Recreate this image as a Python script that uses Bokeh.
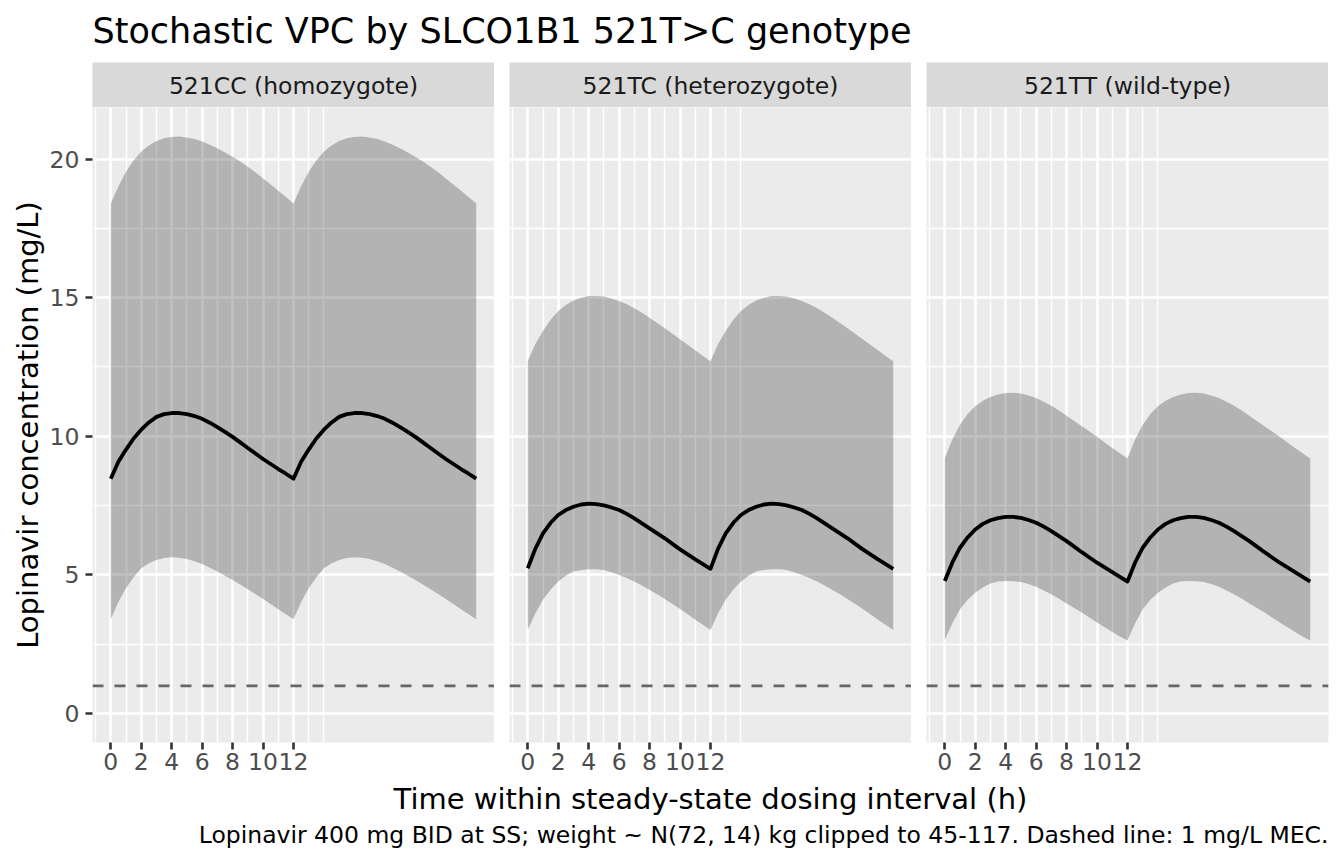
from bokeh.plotting import figure
from bokeh.models import Range1d, FixedTicker, Span, Spacer, ColumnDataSource
from bokeh.layouts import row, column
from bokeh.core.properties import value
from bokeh.embed import file_html
from bokeh.resources import INLINE

# ---------------- data ----------------
panel_labels = ["521CC (homozygote)", "521TC (heterozygote)", "521TT (wild-type)"]

time_h = [0, 0.5, 1, 1.5, 2, 2.5, 3, 3.5, 4, 4.5, 5, 5.5, 6, 6.5, 7, 7.5, 8, 8.5, 9, 9.5, 10, 10.5, 11, 11.5, 12,
          12.5, 13, 13.5, 14, 14.5, 15, 15.5, 16, 16.5, 17, 17.5, 18, 18.5, 19, 19.5, 20, 20.5, 21, 21.5, 22, 22.5,
          23, 23.5, 24]

cc_median = [8.47, 9.08, 9.52, 9.92, 10.24, 10.50, 10.70, 10.80, 10.84, 10.84, 10.80, 10.73, 10.63, 10.49, 10.33,
             10.16, 9.98, 9.78, 9.58, 9.38, 9.18, 9.00, 8.82, 8.65, 8.47,
             9.08, 9.52, 9.92, 10.24, 10.50, 10.70, 10.80, 10.84, 10.84, 10.80, 10.73, 10.63, 10.49, 10.33,
             10.16, 9.98, 9.78, 9.58, 9.38, 9.18, 9.00, 8.82, 8.65, 8.47]
cc_upper = [18.40, 19.02, 19.54, 19.95, 20.27, 20.49, 20.65, 20.75, 20.80, 20.81, 20.78, 20.72, 20.63, 20.52, 20.39,
            20.24, 20.08, 19.91, 19.72, 19.52, 19.30, 19.08, 18.86, 18.63, 18.40,
            19.02, 19.54, 19.95, 20.27, 20.49, 20.65, 20.75, 20.80, 20.81, 20.78, 20.72, 20.63, 20.52, 20.39,
            20.24, 20.08, 19.91, 19.72, 19.52, 19.30, 19.08, 18.86, 18.63, 18.40]
cc_lower = [3.40, 4.02, 4.52, 4.92, 5.24, 5.42, 5.54, 5.61, 5.64, 5.62, 5.57, 5.49, 5.39, 5.26, 5.12,
            4.97, 4.82, 4.65, 4.48, 4.31, 4.13, 3.95, 3.76, 3.58, 3.40,
            4.02, 4.52, 4.92, 5.24, 5.42, 5.54, 5.61, 5.64, 5.62, 5.57, 5.49, 5.39, 5.26, 5.12,
            4.97, 4.82, 4.65, 4.48, 4.31, 4.13, 3.95, 3.76, 3.58, 3.40]

tc_median = [5.24, 5.95, 6.50, 6.88, 7.16, 7.34, 7.46, 7.54, 7.57, 7.55, 7.51, 7.43, 7.34, 7.20, 7.04,
             6.86, 6.68, 6.50, 6.32, 6.12, 5.92, 5.74, 5.56, 5.39, 5.22,
             5.95, 6.50, 6.88, 7.16, 7.34, 7.46, 7.54, 7.57, 7.55, 7.51, 7.43, 7.34, 7.20, 7.04,
             6.86, 6.68, 6.50, 6.32, 6.12, 5.92, 5.74, 5.56, 5.39, 5.22]
tc_upper = [12.72, 13.33, 13.80, 14.20, 14.52, 14.74, 14.90, 15.00, 15.06, 15.06, 15.04, 14.97, 14.88, 14.76, 14.62,
            14.46, 14.28, 14.09, 13.90, 13.70, 13.50, 13.30, 13.10, 12.90, 12.71,
            13.33, 13.80, 14.20, 14.52, 14.74, 14.90, 15.00, 15.06, 15.06, 15.04, 14.97, 14.88, 14.76, 14.62,
            14.46, 14.28, 14.09, 13.90, 13.70, 13.50, 13.30, 13.10, 12.90, 12.71]
tc_lower = [3.02, 3.62, 4.10, 4.47, 4.76, 4.97, 5.12, 5.18, 5.20, 5.20, 5.18, 5.10, 5.00, 4.89, 4.76,
            4.62, 4.46, 4.30, 4.13, 3.95, 3.77, 3.58, 3.38, 3.20, 3.01,
            3.62, 4.10, 4.47, 4.76, 4.97, 5.12, 5.18, 5.20, 5.20, 5.18, 5.10, 5.00, 4.89, 4.76,
            4.62, 4.46, 4.30, 4.13, 3.95, 3.77, 3.58, 3.38, 3.20, 3.01]

tt_median = [4.78, 5.45, 5.98, 6.35, 6.64, 6.84, 6.97, 7.05, 7.09, 7.09, 7.06, 6.98, 6.88, 6.74, 6.58,
             6.40, 6.22, 6.02, 5.82, 5.63, 5.44, 5.27, 5.10, 4.93, 4.76,
             5.45, 5.98, 6.35, 6.64, 6.84, 6.97, 7.05, 7.09, 7.09, 7.06, 6.98, 6.88, 6.74, 6.58,
             6.40, 6.22, 6.02, 5.82, 5.63, 5.44, 5.27, 5.10, 4.93, 4.76]
tt_upper = [9.22, 9.88, 10.42, 10.80, 11.08, 11.28, 11.42, 11.51, 11.56, 11.57, 11.54, 11.47, 11.38, 11.25, 11.10,
            10.93, 10.74, 10.55, 10.36, 10.17, 9.98, 9.78, 9.58, 9.39, 9.20,
            9.88, 10.42, 10.80, 11.08, 11.28, 11.42, 11.51, 11.56, 11.57, 11.54, 11.47, 11.38, 11.25, 11.10,
            10.93, 10.74, 10.55, 10.36, 10.17, 9.98, 9.78, 9.58, 9.39, 9.20]
tt_lower = [2.65, 3.26, 3.76, 4.10, 4.36, 4.55, 4.69, 4.76, 4.78, 4.77, 4.74, 4.67, 4.57, 4.44, 4.30,
            4.14, 3.97, 3.81, 3.64, 3.46, 3.28, 3.11, 2.94, 2.78, 2.63,
            3.26, 3.76, 4.10, 4.36, 4.55, 4.69, 4.76, 4.78, 4.77, 4.74, 4.67, 4.57, 4.44, 4.30,
            4.14, 3.97, 3.81, 3.64, 3.46, 3.28, 3.11, 2.94, 2.78, 2.63]

mec_mg_l = 1.0

x_major_ticks = [0, 2, 4, 6, 8, 10, 12]
x_minor_ticks = [-1, 1, 3, 5, 7, 9, 11, 13, 14]
y_major_ticks = [0, 5, 10, 15, 20]
y_minor_ticks = [2.5, 7.5, 12.5, 17.5]

title_text = "Stochastic VPC by SLCO1B1 521T>C genotype"
x_title = "Time within steady-state dosing interval (h)"
y_title = "Lopinavir concentration (mg/L)"
caption_text = "Lopinavir 400 mg BID at SS; weight ~ N(72, 14) kg clipped to 45-117. Dashed line: 1 mg/L MEC."

series = [(cc_median, cc_lower, cc_upper), (tc_median, tc_lower, tc_upper), (tt_median, tt_lower, tt_upper)]

# ---------------- styling ----------------
FONT = "DejaVu Sans"
W = 1344
PANEL_W = 402
GAP = 15
LEFT = 92
RIGHT = 16
TITLE_H = 62
STRIP_H = 45
FRAME_H = 635
XAXIS_H = 40
BOTTOM_H = 864 - TITLE_H - STRIP_H - FRAME_H - XAXIS_H

x_lim = (-1.2, 25.2)
y_lim = (-1.045, 21.86)


def blank_fig(width, height, bg, yr):
    p = figure(width=width, height=height, x_range=Range1d(0, width), y_range=Range1d(*yr),
               x_axis_location=None, y_axis_location=None, toolbar_location=None,
               output_backend="svg", min_border=0, outline_line_color=None,
               background_fill_color=bg, border_fill_color=bg)
    for g in p.grid:
        g.visible = False
    return p


# title
title_fig = blank_fig(W, TITLE_H, "white", (TITLE_H, 0))
title_fig.text(x=[LEFT], y=[30], text=[title_text], text_font=value(FONT),
               text_font_size=value("35px"), text_color="black",
               text_align="left", text_baseline="middle")

# strips
strip_children = [Spacer(width=LEFT, height=STRIP_H)]
for i, lab in enumerate(panel_labels):
    s = blank_fig(PANEL_W, STRIP_H, "#D9D9D9", (STRIP_H, 0))
    s.text(x=[PANEL_W / 2], y=[STRIP_H / 2 + 1], text=[lab], text_font=value(FONT),
           text_font_size=value("23.5px"), text_color="#1A1A1A",
           text_align="center", text_baseline="middle")
    strip_children.append(s)
    strip_children.append(Spacer(width=GAP if i < 2 else RIGHT, height=STRIP_H))
strip_row = row(*strip_children, spacing=0)

# panels
panels = []
for i, (med, lo, hi) in enumerate(series):
    first = i == 0
    last = i == 2
    left_b = LEFT if first else GAP
    right_b = RIGHT if last else 0
    p = figure(width=left_b + PANEL_W + right_b, height=FRAME_H + XAXIS_H,
               x_range=Range1d(*x_lim), y_range=Range1d(*y_lim),
               y_axis_location="left" if first else None,
               toolbar_location=None, output_backend="svg",
               min_border_left=left_b, min_border_right=right_b,
               min_border_top=0, min_border_bottom=XAXIS_H,
               background_fill_color="#EBEBEB", border_fill_color="white",
               outline_line_color=None)
    src = ColumnDataSource(dict(t=time_h, med=med, lo=lo, hi=hi))
    p.varea(x="t", y1="lo", y2="hi", source=src, fill_color="#333333", fill_alpha=0.3)
    p.line(x="t", y="med", source=src, line_color="black", line_width=3.8, line_join="round")
    p.add_layout(Span(location=mec_mg_l, dimension="width", line_color="#666666",
                      line_dash="11 11", line_width=2.8))

    p.xgrid.ticker = FixedTicker(ticks=x_major_ticks, minor_ticks=x_minor_ticks)
    p.ygrid.ticker = FixedTicker(ticks=y_major_ticks, minor_ticks=y_minor_ticks)
    for g in p.grid:
        g.grid_line_color = "white"
        g.grid_line_width = 2.6
        g.minor_grid_line_color = "white"
        g.minor_grid_line_width = 1.4

    for ax in p.axis:
        ax.axis_line_color = None
        ax.major_tick_in = 0
        ax.major_tick_out = 7
        ax.major_tick_line_color = "#333333"
        ax.major_tick_line_width = 2.6
        ax.minor_tick_line_color = None
        ax.major_label_text_font = FONT
        ax.major_label_text_font_size = "23.5px"
        ax.major_label_text_color = "#4D4D4D"
    p.xaxis.ticker = FixedTicker(ticks=x_major_ticks)
    p.xaxis.major_label_standoff = 3
    if first:
        p.yaxis.ticker = FixedTicker(ticks=y_major_ticks)
        p.yaxis.major_label_standoff = 6
        p.yaxis.axis_label = y_title
        p.yaxis.axis_label_text_font = FONT
        p.yaxis.axis_label_text_font_size = "29px"
        p.yaxis.axis_label_text_font_style = "normal"
        p.yaxis.axis_label_text_color = "black"
        p.yaxis.axis_label_standoff = 2
    panels.append(p)
panel_row = row(*panels, spacing=0)

# bottom: x title + caption
bottom_fig = blank_fig(W, BOTTOM_H, "white", (BOTTOM_H, 0))
y0 = TITLE_H + STRIP_H + FRAME_H + XAXIS_H
bottom_fig.text(x=[LEFT + (3 * PANEL_W + 2 * GAP) / 2], y=[798 - y0], text=[x_title],
                text_font=value(FONT), text_font_size=value("29px"), text_color="black",
                text_align="center", text_baseline="middle")
bottom_fig.text(x=[W - RIGHT], y=[834 - y0], text=[caption_text],
                text_font=value(FONT), text_font_size=value("23.5px"), text_color="black",
                text_align="right", text_baseline="middle")

layout = column(title_fig, strip_row, panel_row, bottom_fig, spacing=0)

open("out.html", "w").write(file_html(layout, INLINE))
